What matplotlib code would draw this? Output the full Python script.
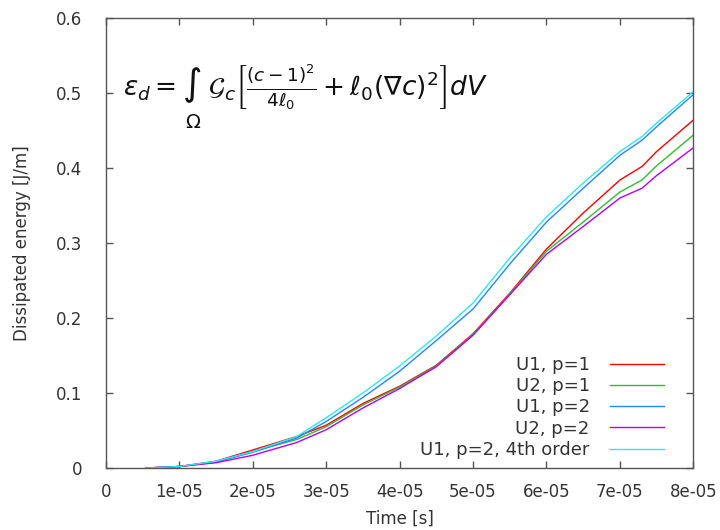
import matplotlib
matplotlib.use("Agg")
import matplotlib.pyplot as plt
import numpy as np

# time samples, in units of 1e-5 s
t = [0.55, 1.0, 1.5, 2.0, 2.6, 3.0, 3.5, 4.0, 4.5, 5.0, 5.5, 6.0, 6.5, 7.0, 7.3, 7.5, 8.0]

u1_p1 = [0, 0.002, 0.009, 0.024, 0.042, 0.057, 0.086, 0.109, 0.137, 0.179, 0.233, 0.292, 0.340, 0.384, 0.402, 0.422, 0.464]
u2_p1 = [0, 0.002, 0.008, 0.022, 0.038, 0.055, 0.084, 0.108, 0.136, 0.178, 0.232, 0.289, 0.328, 0.368, 0.384, 0.403, 0.444]
u1_p2 = [0, 0.002, 0.008, 0.021, 0.040, 0.062, 0.094, 0.129, 0.170, 0.212, 0.272, 0.328, 0.373, 0.417, 0.437, 0.455, 0.498]
u2_p2 = [0, 0.002, 0.007, 0.017, 0.034, 0.051, 0.080, 0.106, 0.135, 0.177, 0.231, 0.285, 0.322, 0.360, 0.373, 0.390, 0.427]
u1_p2_4th = [0, 0.002, 0.009, 0.022, 0.042, 0.067, 0.100, 0.136, 0.176, 0.220, 0.280, 0.335, 0.380, 0.422, 0.442, 0.460, 0.502]

series = [
    ("U1, p=1", u1_p1, "#ff0000"),
    ("U2, p=1", u2_p1, "#2fbf2f"),
    ("U1, p=2", u1_p2, "#2088ff"),
    ("U2, p=2", u2_p2, "#b400ff"),
    ("U1, p=2, 4th order", u1_p2_4th, "#30e6f0"),
]

text_col = "#333333"
plt.rcParams["font.family"] = "DejaVu Sans"
plt.rcParams["mathtext.fontset"] = "dejavusans"

fig = plt.figure(figsize=(7.2, 5.3), dpi=100)
ax = fig.add_axes([0.147, 0.117, 0.816, 0.849])

time = np.array(t) * 1e-5
for label, vals, col in series:
    ax.plot(time, vals, color=col, lw=1.0, label=label)

ax.set_xlim(0, 8e-5)
ax.set_ylim(0, 0.6)
ax.set_xticks(np.arange(0, 9) * 1e-5)
ax.set_xticklabels(["0"] + ["%de-05" % i for i in range(1, 9)])
ax.set_yticks([0, 0.1, 0.2, 0.3, 0.4, 0.5, 0.6])
ax.set_yticklabels(["0", "0.1", "0.2", "0.3", "0.4", "0.5", "0.6"])

ax.tick_params(direction="in", length=5, width=1, top=True, right=True,
               colors="#555555", labelcolor=text_col, labelsize=12)
ax.tick_params(axis="x", pad=11)
ax.tick_params(axis="y", pad=17)
for s in ax.spines.values():
    s.set_color("#555555")
    s.set_linewidth(1)

ax.set_xlabel("Time [s]", color=text_col, fontsize=12, labelpad=6)
ax.set_ylabel("Dissipated energy [J/m]", color=text_col, fontsize=12, labelpad=18)

# energy functional, with the domain symbol set under the integral sign
ax.text(0.03, 0.845,
        r"$\varepsilon_d = \int\; \mathcal{G}_c \left[\frac{(c-1)^2}{4\ell_0} + \ell_0(\nabla c)^2\right] dV$",
        transform=ax.transAxes, fontsize=19, color="#111111", va="center")
ax.text(0.148, 0.768, r"$\Omega$", transform=ax.transAxes, fontsize=14,
        color="#111111", ha="center", va="center")

leg = ax.legend(loc="lower right", frameon=False, markerfirst=False,
                fontsize=13, handlelength=3.0, labelspacing=0.18,
                borderaxespad=0.1, handletextpad=1.1,
                bbox_to_anchor=(0.965, 0.0))
for txt in leg.get_texts():
    txt.set_color(text_col)

fig.savefig("out.png", dpi=100)
